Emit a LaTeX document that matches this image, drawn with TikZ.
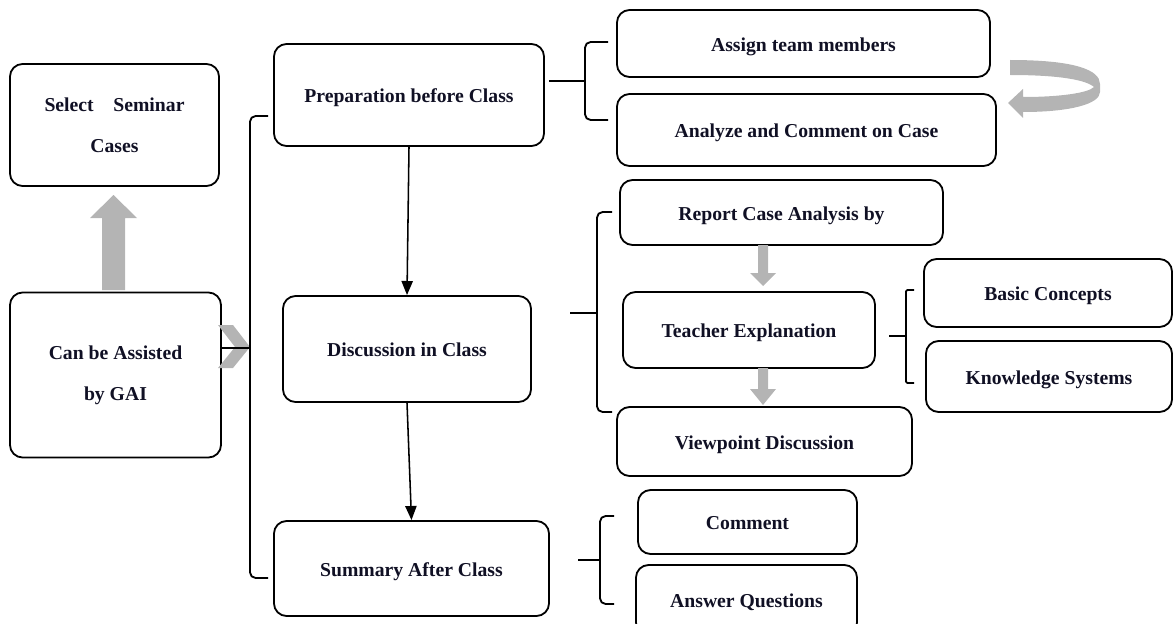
\documentclass[tikz,border=0pt]{standalone}
\usepackage{fontspec}
\setmainfont{Liberation Serif}
\usetikzlibrary{positioning,arrows.meta}
\definecolor{txtcol}{HTML}{101024}
\definecolor{arrgray}{HTML}{B4B4B4}

\begin{document}
\begin{tikzpicture}[x=0.025cm,y=-0.025cm,
	box/.style={draw,line width=1.3pt,rounded corners=9pt,align=center,
		text=txtcol,font=\bfseries\fontsize{14}{29}\selectfont,inner sep=0pt},
	sbox/.style={box,text height=11pt,text depth=0pt},
	brk/.style={line width=1.3pt,rounded corners=4pt},
	arr/.style={line width=1.1pt,-{Triangle[length=10pt,width=8pt]}}]
	\useasboundingbox (0,0) rectangle (1173,624);
	% left column
	\node[box,minimum width=5.225cm,minimum height=3.05cm] (sel) at (114.5,125) {Select\quad Seminar\\Cases};
	\node[box,minimum width=5.275cm,minimum height=4.125cm] (gai) at (115.5,375) {Can be Assisted\\by GAI};
	% gray up arrow and chevron
	\fill[arrgray] (102,290) -- (102,218) -- (90,218) -- (113.5,195) -- (137,218) -- (125,218) -- (125,290) -- cycle;
	\fill[arrgray] (218,325) -- (233,325) -- (250,347) -- (233,368) -- (218,368) -- (235,347) -- cycle;
	% middle column
	\node[sbox,minimum width=6.75cm,minimum height=2.55cm] (prep) at (409,95) {Preparation before Class};
	\node[sbox,minimum width=6.2cm,minimum height=2.65cm] (disc) at (407,349) {Discussion in Class};
	\node[sbox,minimum width=6.875cm,minimum height=2.375cm] (summ) at (411.5,568.5) {Summary After Class};
	% right column
	\node[sbox,minimum width=9.325cm,minimum height=1.675cm] (assign) at (803.5,43.5) {Assign team members};
	\node[sbox,minimum width=9.475cm,minimum height=1.8cm] (analyze) at (806.5,130) {Analyze and Comment on Case};
	\node[sbox,minimum width=8.075cm,minimum height=1.625cm] (report) at (781.5,212.5) {Report Case Analysis by};
	\node[sbox,minimum width=6.3cm,minimum height=1.9cm] (teach) at (749,330) {Teacher Explanation};
	\node[sbox,minimum width=7.375cm,minimum height=1.725cm] (view) at (764.5,441.5) {Viewpoint Discussion};
	\node[sbox,minimum width=6.2cm,minimum height=1.7cm] (basic) at (1048,293) {Basic Concepts};
	\node[sbox,minimum width=6.15cm,minimum height=1.775cm] (know) at (1049,376.5) {Knowledge Systems};
	\node[sbox,minimum width=5.475cm,minimum height=1.6cm] (comm) at (747.5,522) {Comment};
	\node[sbox,minimum width=5.525cm,minimum height=1.75cm] (ans) at (746.5,600) {Answer Questions};
	% brackets
	\coordinate (lb) at (250,348);
	\draw[line width=1.3pt] (222,348) -- (lb);
	\draw[brk] (268,116) -| (lb) |- (268,578);
	\coordinate (b1) at (585,81);
	\draw[line width=1.3pt] (549,81) -- (b1);
	\draw[brk] (608,42) -| (b1) |- (608,120);
	\coordinate (b2) at (597,313);
	\draw[line width=1.3pt] (570,313) -- (b2);
	\draw[brk] (612,212) -| (b2) |- (612,412);
	\coordinate (b3) at (906,336);
	\draw[line width=1.3pt] (889,336) -- (b3);
	\draw[brk,rounded corners=1pt] (914,290) -| (b3) |- (914,383);
	\coordinate (b4) at (600,560);
	\draw[line width=1.3pt] (578,560) -- (b4);
	\draw[brk] (614,516) -| (b4) |- (614,604);
	% flow arrows
	\draw[arr] (prep.south) -- (disc.north);
	\draw[arr] (disc.south) -- (summ.north);
	\fill[arrgray] (758,245) -- (758,273) -- (750,273) -- (763,286) -- (776,273) -- (768,273) -- (768,245) -- cycle;
	\fill[arrgray] (758,368) -- (758,389) -- (750,389) -- (763,405) -- (776,389) -- (768,389) -- (768,368) -- cycle;
	% loop arrow
	\fill[arrgray] (1010,60) .. controls (1075,60) and (1100,70) .. (1100,84) -- (1100,92)
		.. controls (1100,104) and (1070,112) .. (1023,112) -- (1023,118) -- (1008,103) -- (1023,89)
		-- (1023,97) .. controls (1060,97) and (1088,93) .. (1094,87)
		.. controls (1086,80) and (1060,75) .. (1010,75) -- cycle;
\end{tikzpicture}
\end{document}
